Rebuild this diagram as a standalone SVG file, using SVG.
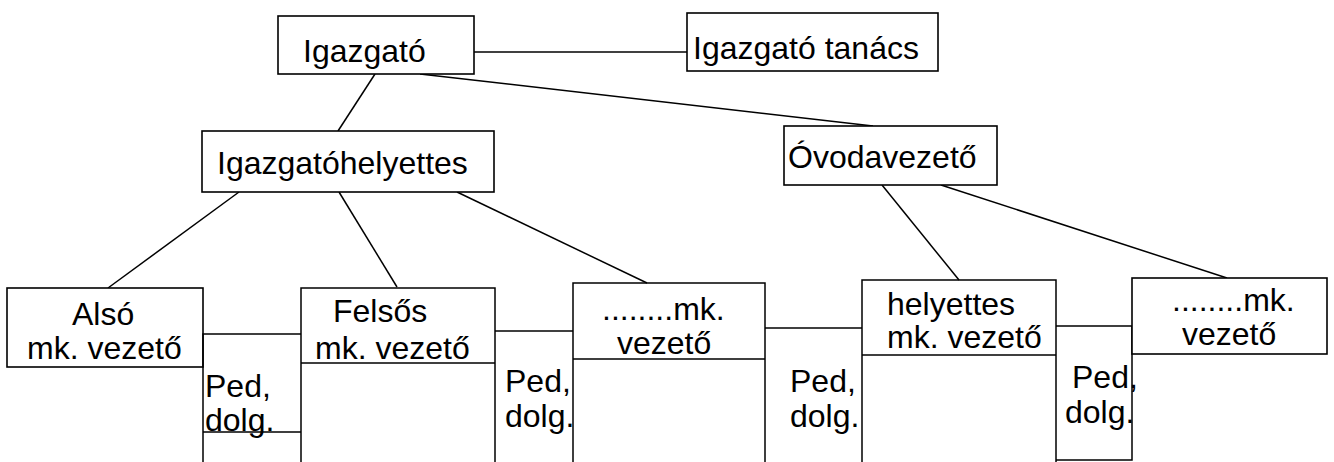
<svg xmlns="http://www.w3.org/2000/svg" width="1334" height="462" viewBox="0 0 1334 462">
<style>
.b{fill:#fff;stroke:#000;stroke-width:1.6}
.l{fill:none;stroke:#000;stroke-width:1.5}
text{font-family:"Liberation Sans",Arial,sans-serif;font-size:32px;fill:#000}
</style>
<rect width="1334" height="462" fill="#fff"/>
<g id="connectors" class="l">
<line x1="474" y1="52" x2="687" y2="52"/>
<line x1="375" y1="74" x2="338" y2="131"/>
<line x1="420" y1="74" x2="873" y2="126"/>
<line x1="239" y1="192" x2="108" y2="288"/>
<line x1="339" y1="192" x2="397" y2="287"/>
<line x1="457" y1="192" x2="647" y2="283"/>
<line x1="882" y1="185" x2="959" y2="280"/>
<line x1="941" y1="185" x2="1227" y2="278"/>
</g>
<g id="igazgato">
<rect class="b" x="278" y="16" width="196" height="58"/>
<text x="303" y="62">Igazgató</text>
</g>
<g id="igazgato-tanacs">
<rect class="b" x="687" y="13" width="251" height="58"/>
<text x="693" y="59">Igazgató tanács</text>
</g>
<g id="igazgatohelyettes">
<rect class="b" x="202" y="131" width="292" height="61"/>
<text x="217" y="174">Igazgatóhelyettes</text>
</g>
<g id="ovodavezeto">
<rect class="b" x="784" y="126" width="213" height="59"/>
<text x="788" y="168">Óvodavezető</text>
</g>
<g id="also">
<rect class="b" x="7" y="288" width="196" height="79"/>
<text x="72" y="325">Alsó</text>
<text x="27" y="359">mk. vezető</text>
</g>
<g id="ped1">
<path class="l" d="M203,462 V334 H301 M203,432 H301"/>
<text x="205" y="397">Ped,</text>
<text x="205" y="431">dolg.</text>
</g>
<g id="felsos">
<path class="l" d="M301,462 V288 H495 V462 M301,363 H495"/>
<text x="333" y="322">Felsős</text>
<text x="315" y="359">mk. vezető</text>
</g>
<g id="ped2">
<path class="l" d="M495,331 H573"/>
<text x="505" y="392">Ped,</text>
<text x="505" y="427">dolg.</text>
</g>
<g id="mk1">
<path class="l" d="M573,462 V283 H765 V462 M573,359 H765"/>
<text x="602" y="320">........mk.</text>
<text x="617" y="354">vezető</text>
</g>
<g id="ped3">
<path class="l" d="M765,328 H862"/>
<text x="790" y="392">Ped,</text>
<text x="790" y="427">dolg.</text>
</g>
<g id="helyettes">
<path class="l" d="M862,462 V280 H1056 V462 M862,355 H1056"/>
<text x="887" y="315">helyettes</text>
<text x="887" y="348">mk. vezető</text>
</g>
<g id="ped4">
<path class="l" d="M1056,326 H1132 V460 H1056"/>
<text x="1072" y="388">Ped,</text>
<text x="1065" y="423">dolg.</text>
</g>
<g id="mk2">
<rect class="b" x="1132" y="278" width="195" height="76"/>
<text x="1172" y="311">........mk.</text>
<text x="1182" y="345">vezető</text>
</g>
</svg>
